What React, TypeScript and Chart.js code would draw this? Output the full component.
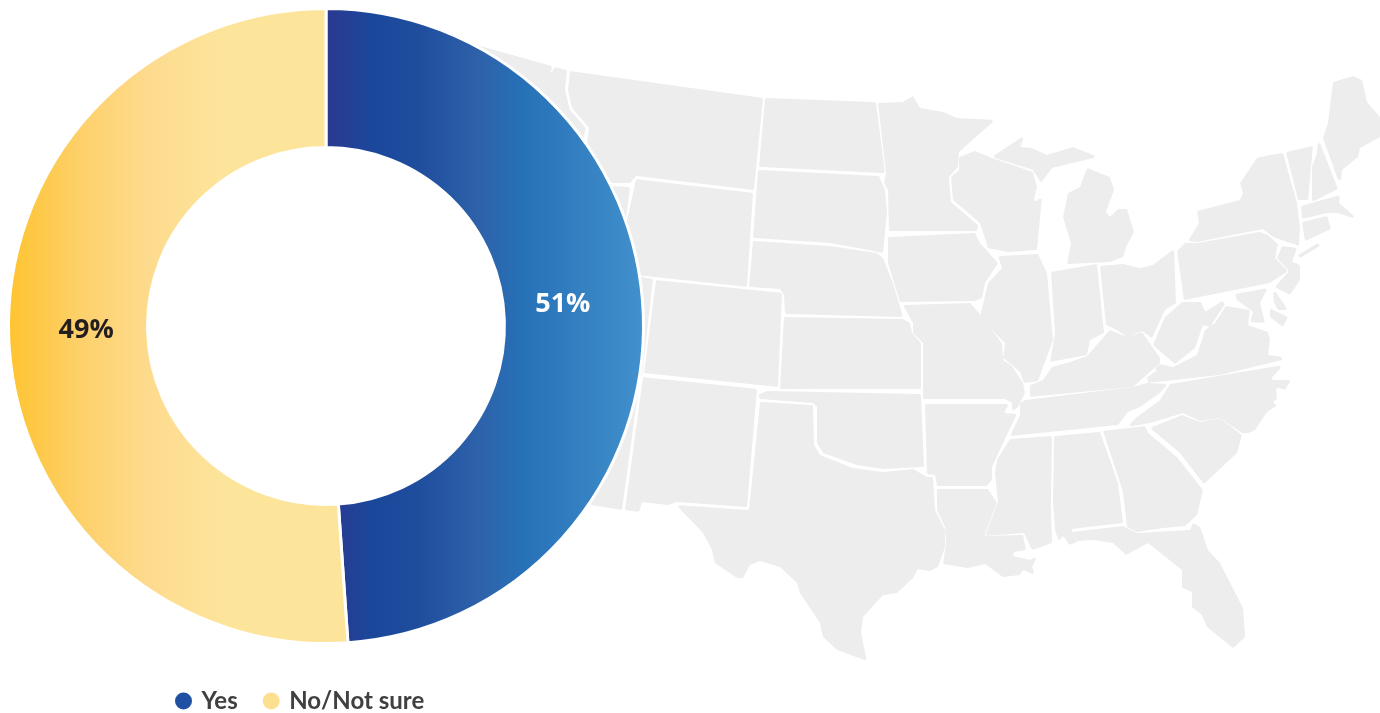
import React, { useEffect, useRef } from "react";
import { Chart, registerables } from "chart.js";

Chart.register(...registerables);

const categories = ["Yes", "No/Not sure"];
// The printed labels, and the slice shares as the picture draws them (blue spans slightly under half).
const printedLabels = ["51%", "49%"];
const sliceShares = [48.9, 51.1];
const legendColors = ["#1f50a1", "#fde08f"];
const labelColors = ["#ffffff", "#231f20"];
const labelNudge = [[-11, -13], [8, -4]];

const blueStops: [number, string][] = [[326, "#2b3990"], [372, "#1b479b"], [420, "#1f4e9e"], [480, "#2e62aa"], [520, "#2670b7"], [642, "#4290cc"]];
const yellowStops: [number, string][] = [[10, "#fec431"], [80, "#fdd06a"], [150, "#fddb8e"], [220, "#fde49b"], [326, "#fde49b"]];

// Decorative backdrop: the contiguous US states, not data.
const stateShapes: number[][][] = [
  [[480,46],[552,66],[546,105],[470,120]],
  [[555,67],[567,70],[565,90],[570,110],[586,128],[583,140],[600,175],[610,186],[630,187],[625,228],[560,240],[500,150]],
  [[570,71],[763,98],[754,190],[636,176],[630,183],[612,183],[600,170],[587,142],[589,128],[572,108],[568,90]],
  [[765,98],[873,102],[876,103],[885,173],[759,167]],
  [[758,170],[879,176],[885,190],[887,213],[883,253],[863,249],[830,243],[753,238]],
  [[636,179],[753,193],[747,287],[628,274],[626,225]],
  [[753,241],[830,246],[877,253],[883,258],[893,283],[903,317],[785,314],[784,295],[780,289],[749,287]],
  [[656,280],[782,293],[778,387],[644,373]],
  [[625,274],[653,279],[642,376],[625,374]],
  [[784,317],[903,319],[910,323],[912,333],[921,343],[921,389],[780,389]],
  [[643,377],[757,389],[747,507],[677,502],[668,505],[642,502],[639,512],[625,510]],
  [[591,505],[622,510],[640,378],[590,370]],
  [[767,391],[921,394],[924,467],[883,469],[857,465],[823,453],[817,443],[817,407],[813,403],[760,399],[758,395]],
  [[760,402],[813,405],[814,445],[820,455],[853,468],[883,472],[913,469],[927,477],[933,477],[935,510],[945,530],[945,547],[938,567],[930,571],[918,569],[913,578],[897,593],[883,595],[863,617],[861,633],[867,661],[837,650],[823,637],[820,623],[800,593],[797,583],[780,567],[760,561],[750,565],[743,578],[737,578],[715,563],[712,550],[703,533],[676,505],[749,510]],
  [[925,404],[1009,404],[1004,413],[1017,414],[1003,443],[992,467],[992,480],[987,486],[937,486],[935,475],[927,474]],
  [[937,489],[988,489],[997,503],[984,536],[1023,535],[1026,550],[1014,552],[1013,556],[1030,560],[1038,555],[1032,567],[1035,575],[1023,570],[1020,575],[1003,577],[985,564],[968,568],[943,564],[946,543],[945,527],[937,510]],
  [[1010,439],[1052,436],[1051,503],[1052,543],[1032,550],[1024,533],[985,536],[998,502],[995,473],[997,460]],
  [[1054,436],[1100,432],[1118,483],[1123,523],[1071,529],[1078,542],[1069,545],[1063,535],[1059,542],[1055,530],[1053,503]],
  [[1103,431],[1145,426],[1148,433],[1177,457],[1203,490],[1197,515],[1185,526],[1163,528],[1137,532],[1127,527],[1123,492]],
  [[1150,428],[1182,415],[1200,422],[1220,418],[1242,435],[1237,453],[1204,484],[1180,453]],
  [[1072,532],[1123,526],[1137,533],[1190,530],[1193,523],[1200,527],[1208,550],[1220,563],[1243,608],[1245,637],[1233,648],[1207,627],[1202,615],[1192,607],[1192,592],[1182,588],[1182,570],[1148,543],[1126,555],[1113,543],[1093,540],[1078,541]],
  [[1170,384],[1283,365],[1270,380],[1291,380],[1285,390],[1276,387],[1277,400],[1270,402],[1278,405],[1267,412],[1255,430],[1248,433],[1242,433],[1220,418],[1200,421],[1183,413],[1150,423],[1127,427],[1137,417],[1160,400]],
  [[1025,400],[1133,387],[1147,383],[1168,384],[1160,393],[1140,407],[1128,412],[1118,425],[1010,436],[1020,415],[1020,403]],
  [[1030,385],[1043,380],[1052,367],[1070,362],[1087,356],[1110,330],[1127,337],[1142,332],[1160,358],[1160,363],[1133,387],[1030,397]],
  [[1160,364],[1173,367],[1197,355],[1205,330],[1215,323],[1226,306],[1250,310],[1248,325],[1268,332],[1270,340],[1268,355],[1282,357],[1282,360],[1220,375],[1147,383],[1149,376],[1136,385]],
  [[1182,302],[1201,302],[1205,312],[1222,301],[1225,304],[1210,327],[1203,325],[1195,348],[1175,364],[1153,345],[1165,317]],
  [[1100,266],[1123,264],[1140,268],[1153,265],[1174,249],[1176,303],[1165,310],[1152,338],[1142,331],[1127,337],[1117,330],[1106,325]],
  [[1051,272],[1097,264],[1104,333],[1090,340],[1087,355],[1050,362],[1055,333]],
  [[998,256],[1038,254],[1047,273],[1053,340],[1038,381],[1024,383],[1020,372],[1012,365],[1003,358],[1005,343],[992,330],[980,317],[988,283],[1002,268]],
  [[959,157],[975,151],[992,158],[1033,172],[1037,187],[1033,203],[1042,197],[1037,250],[1008,252],[988,248],[980,223],[953,200],[951,177],[959,170]],
  [[878,103],[903,102],[913,96],[920,108],[943,112],[957,118],[995,120],[959,152],[958,167],[949,177],[951,202],[978,225],[977,231],[889,231],[888,190],[884,183],[886,173]],
  [[888,237],[975,233],[980,243],[998,263],[985,283],[982,298],[975,301],[900,302],[888,263]],
  [[903,305],[970,303],[978,312],[1002,343],[1003,360],[1012,366],[1023,383],[1025,393],[1018,407],[1012,412],[1012,403],[1005,399],[923,399],[923,343],[913,333],[913,323]],
  [[1087,168],[1110,177],[1114,190],[1106,212],[1110,217],[1118,209],[1127,209],[1134,232],[1127,245],[1123,257],[1110,262],[1067,264],[1071,243],[1063,217],[1068,193],[1080,187]],
  [[1025,135],[1020,147],[1032,148],[1047,155],[1073,147],[1098,157],[1052,168],[1041,183],[1033,170],[992,157]],
  [[1283,153],[1297,203],[1300,227],[1299,246],[1273,237],[1263,229],[1197,242],[1188,241],[1199,223],[1197,211],[1240,200],[1243,193],[1240,183],[1257,158],[1270,155]],
  [[1286,152],[1313,146],[1308,200],[1298,200]],
  [[1318,138],[1338,189],[1312,202],[1312,167],[1317,153]],
  [[1333,82],[1353,76],[1362,80],[1367,102],[1380,117],[1380,137],[1360,148],[1358,157],[1342,170],[1341,180],[1338,180],[1323,138],[1328,123]],
  [[1301,206],[1340,195],[1339,203],[1354,216],[1353,218],[1337,213],[1327,213],[1302,219]],
  [[1302,222],[1327,216],[1331,229],[1305,241]],
  [[1298,255],[1318,243],[1320,246],[1300,258]],
  [[1177,251],[1185,243],[1197,243],[1260,232],[1268,235],[1278,244],[1275,258],[1288,271],[1270,283],[1184,300]],
  [[1282,246],[1297,248],[1292,262],[1300,265],[1300,280],[1290,295],[1275,287],[1289,271],[1277,258]],
  [[1235,294],[1268,288],[1260,303],[1265,323],[1250,322],[1253,312],[1237,300]],
  [[1273,288],[1288,310],[1278,310],[1274,303]],
  [[1270,297],[1273,310],[1288,317],[1283,327],[1270,317]],
];

const backdropPlugin = {
  id: "backdrop",
  beforeDraw(chart: any) {
    const ctx = chart.ctx;
    ctx.save();
    ctx.fillStyle = "#ededed";
    for (const shape of stateShapes) {
      const n = shape.length;
      const mid = (a: number[], b: number[]) => [(a[0] + b[0]) / 2, (a[1] + b[1]) / 2];
      const start = mid(shape[n - 1], shape[0]);
      ctx.beginPath();
      ctx.moveTo(start[0], start[1]);
      shape.forEach((p, i) => {
        const next = mid(p, shape[(i + 1) % n]);
        ctx.arcTo(p[0], p[1], next[0], next[1], 1.5);
        ctx.lineTo(next[0], next[1]);
      });
      ctx.closePath();
      ctx.fill();
    }
    ctx.restore();
  },
};

const legendPlacePlugin = {
  id: "legendPlace",
  afterLayout(chart: any) {
    const legend = chart.legend;
    legend.left = 150;
    legend.right = 600;
    legend.top = 661.5;
    legend.bottom = 713;
    legend.height = 51.5;
  },
};

const sliceLabelPlugin = {
  id: "sliceLabels",
  afterDatasetsDraw(chart: any) {
    const ctx = chart.ctx;
    const arcs = chart.getDatasetMeta(0).data;
    ctx.save();
    ctx.font = "bold 27px 'Open Sans'";
    ctx.textAlign = "center";
    ctx.textBaseline = "middle";
    arcs.forEach((arc: any, i: number) => {
      const p = arc.getCenterPoint();
      ctx.fillStyle = labelColors[i];
      ctx.fillText(printedLabels[i], p.x + labelNudge[i][0], p.y + labelNudge[i][1]);
    });
    ctx.restore();
  },
};

export default function App() {
  const ref = useRef<HTMLCanvasElement>(null);
  useEffect(() => {
    const canvas = ref.current!;
    const ctx = canvas.getContext("2d")!;
    const makeGradient = (stops: [number, string][]) => {
      const x0 = stops[0][0];
      const x1 = stops[stops.length - 1][0];
      const g = ctx.createLinearGradient(x0, 0, x1, 0);
      stops.forEach(([x, c]) => g.addColorStop((x - x0) / (x1 - x0), c));
      return g;
    };
    const chart = new Chart(canvas, {
      type: "doughnut",
      data: {
        labels: categories,
        datasets: [
          {
            data: sliceShares,
            backgroundColor: [makeGradient(blueStops), makeGradient(yellowStops)],
            borderColor: "#ffffff",
            borderWidth: 3,
          },
        ],
      },
      options: {
        responsive: false,
        animation: false,
        cutout: "56.2%",
        layout: { padding: { left: 7, top: 7, right: 735, bottom: 18 } },
        plugins: {
          tooltip: { enabled: false },
          legend: {
            position: "bottom",
            align: "start",
            maxHeight: 50,
            labels: {
              usePointStyle: true,
              boxWidth: 12,
              boxHeight: 12,
              padding: 27.5,
              color: "#404040",
              font: { family: "Lato", size: 24, weight: "bold" },
              generateLabels: () =>
                categories.map((text, i) => ({
                  text,
                  fillStyle: legendColors[i],
                  strokeStyle: legendColors[i],
                  fontColor: "#404040",
                  lineWidth: 0,
                  pointStyle: "circle",
                  hidden: false,
                  index: i,
                })),
            },
          },
        },
      },
      plugins: [backdropPlugin, legendPlacePlugin, sliceLabelPlugin],
    } as any);
    return () => chart.destroy();
  }, []);
  return (
    <canvas
      ref={ref}
      width={1380}
      height={713}
      style={{ position: "fixed", left: 0, top: 0, display: "block" }}
    />
  );
}
